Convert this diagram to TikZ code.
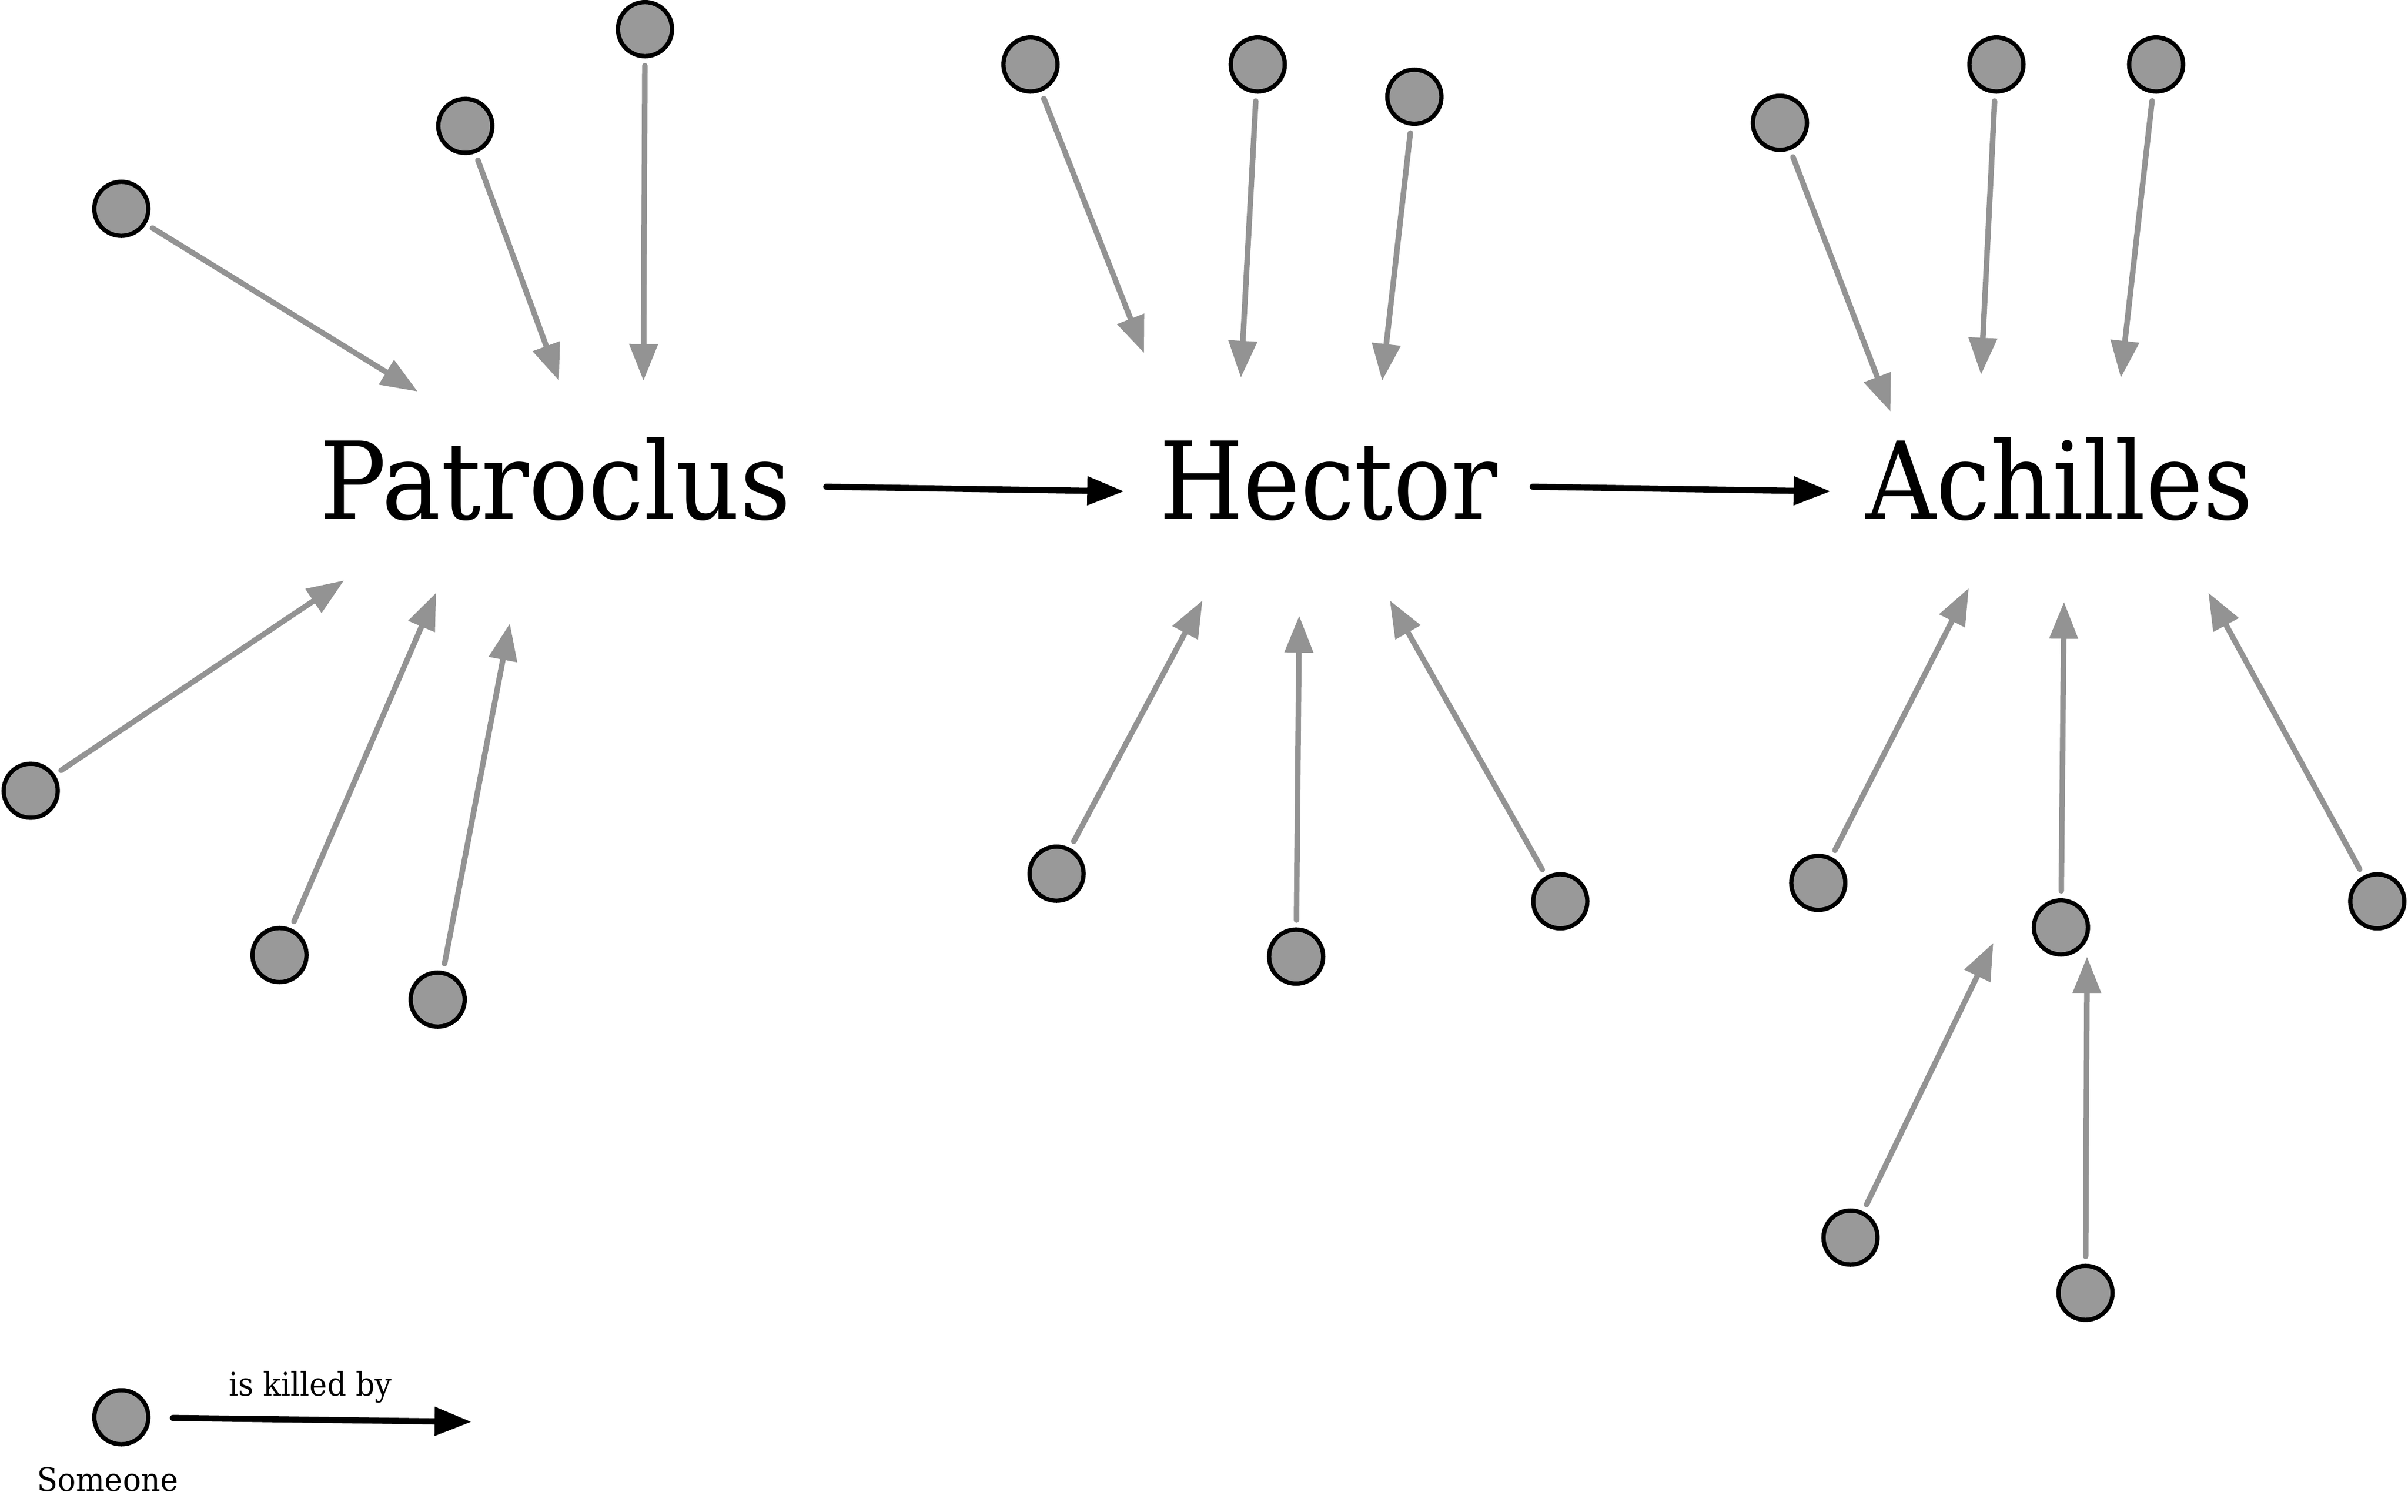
\documentclass[tikz,border=0pt]{standalone}
\usepackage{fontspec}
\usepackage{graphicx}
\usetikzlibrary{arrows.meta}
\newfontfamily\slab{DejaVu Serif}
\definecolor{nodegrey}{HTML}{999999}
\definecolor{arrowgrey}{HTML}{939393}
\begin{document}
\begin{tikzpicture}[x=0.025cm,y=-0.025cm,
 person/.style={circle, draw=black, fill=nodegrey, line width=0.07cm, minimum size=0.88cm, inner sep=0pt},
 kill/.style={draw=arrowgrey, line width=0.09cm, line cap=round, shorten <=0.12cm, -{Triangle[length=0.6cm,width=0.45cm]}},
 killblack/.style={kill, draw=black, line width=0.1cm},
 bigname/.style={anchor=base, inner sep=0pt, outer sep=0pt, font=\slab\fontsize{49.8}{60}\selectfont},
 smalltext/.style={anchor=base, inner sep=0pt, outer sep=0pt, font=\slab\fontsize{15}{18}\selectfont}
]
\useasboundingbox (0,0) rectangle (1568,984.7);

% names
\node[bigname] (P) at (361.5,338) {\resizebox{7.675cm}{\height}{Patroclus}};
\node[bigname] (H) at (865,338) {\resizebox{5.5cm}{\height}{Hector}};
\node[bigname] (A) at (1341,338) {\resizebox{6.3cm}{\height}{Achilles}};

\draw[killblack, shorten <=0pt] ([shift={(0.575cm,0.525cm)}]P.base east) -- ([shift={(-0.575cm,0.45cm)}]H.base west);
\draw[killblack, shorten <=0pt] ([shift={(0.575cm,0.525cm)}]H.base east) -- ([shift={(-0.575cm,0.45cm)}]A.base west);

% Patroclus killers
\node[person] (p1) at (79,136) {};
\node[person] (p2) at (303,82) {};
\node[person] (p3) at (420,19) {};
\node[person] (p4) at (20,515) {};
\node[person] (p5) at (182,622) {};
\node[person] (p6) at (285,651) {};
\coordinate (tp1) at (272,255);
\coordinate (tp2) at (364,248);
\coordinate (tp3) at (419,248);
\coordinate (tp4) at (224,378);
\coordinate (tp5) at (284,386);
\coordinate (tp6) at (332,406);
\foreach \i in {1,...,6} \draw[kill] (p\i) -- (tp\i);

% Hector killers
\node[person] (h1) at (671,42) {};
\node[person] (h2) at (819,42) {};
\node[person] (h3) at (921,63) {};
\node[person] (h4) at (688,569) {};
\node[person] (h5) at (844,623) {};
\node[person] (h6) at (1016,587) {};
\coordinate (th1) at (745,230);
\coordinate (th2) at (808,246);
\coordinate (th3) at (900,248);
\coordinate (th4) at (783,391);
\coordinate (th5) at (846,401);
\coordinate (th6) at (905,391);
\foreach \i in {1,...,6} \draw[kill] (h\i) -- (th\i);

% Achilles killers
\node[person] (a1) at (1159,80) {};
\node[person] (a2) at (1300,42) {};
\node[person] (a3) at (1404,42) {};
\node[person] (a4) at (1184,575) {};
\node[person] (a5) at (1342,604) {};
\node[person] (a6) at (1548,587) {};
\node[person] (a7) at (1205,806) {};
\node[person] (a8) at (1358,842) {};
\coordinate (ta1) at (1231,268);
\coordinate (ta2) at (1290,244);
\coordinate (ta3) at (1381,246);
\coordinate (ta4) at (1282,383);
\coordinate (ta5) at (1344,392);
\coordinate (ta6) at (1438,386);
\coordinate (ta7) at (1298,614);
\coordinate (ta8) at (1359,623);
\foreach \i in {1,...,8} \draw[kill] (a\i) -- (ta\i);

% legend
\node[person] (leg) at (79,923) {};
\coordinate (legtip) at (307,926);
\draw[killblack, shorten <=0.365cm] (leg) -- (legtip);
\node[smalltext] (killedby) at (202,909) {\resizebox{2.65cm}{\height}{is killed by}};
\node[smalltext] (someone) at (70.2,971) {\resizebox{2.3cm}{\height}{Someone}};
\end{tikzpicture}
\end{document}
